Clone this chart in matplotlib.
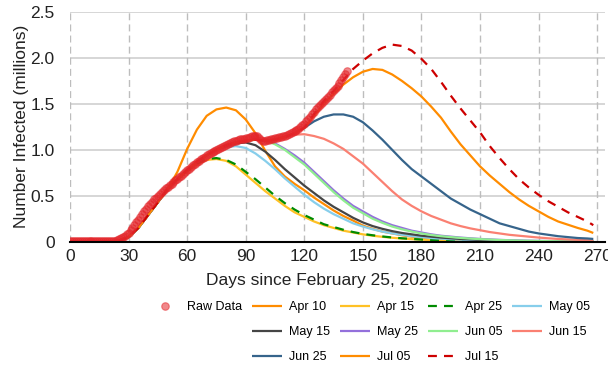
import numpy as np
import matplotlib
matplotlib.use("Agg")
import matplotlib.pyplot as plt
from matplotlib.lines import Line2D

plt.rcParams['font.family'] = ['Liberation Sans', 'DejaVu Sans']

# ---- observed data (millions infected), one value per day from Feb 25 ----
raw_days = list(range(0, 143))
raw_vals = [
    0.003, 0.003, 0.003, 0.003, 0.003, 0.003, 0.003, 0.003, 0.003, 0.003,
    0.003, 0.003, 0.003, 0.003, 0.003, 0.003, 0.004, 0.004, 0.004, 0.005,
    0.005, 0.007, 0.010, 0.013, 0.018, 0.025, 0.035, 0.048, 0.063, 0.080,
    0.100, 0.125, 0.150, 0.180, 0.210, 0.240, 0.270, 0.300, 0.330, 0.360,
    0.385, 0.410, 0.435, 0.460, 0.480, 0.500, 0.520, 0.540, 0.560, 0.580,
    0.600, 0.615, 0.630, 0.650, 0.670, 0.685, 0.700, 0.720, 0.740, 0.760,
    0.780, 0.790, 0.810, 0.830, 0.850, 0.865, 0.880, 0.895, 0.910, 0.925,
    0.940, 0.955, 0.965, 0.975, 0.990, 1.000, 1.010, 1.020, 1.035, 1.045,
    1.055, 1.065, 1.075, 1.085, 1.095, 1.100, 1.110, 1.115, 1.120, 1.120,
    1.125, 1.130, 1.140, 1.145, 1.150, 1.155, 1.150, 1.130, 1.110, 1.100,
    1.100, 1.105, 1.110, 1.115, 1.120, 1.125, 1.130, 1.135, 1.140, 1.145,
    1.150, 1.160, 1.170, 1.180, 1.190, 1.200, 1.215, 1.230, 1.245, 1.265,
    1.285, 1.310, 1.335, 1.360, 1.385, 1.410, 1.440, 1.470, 1.490, 1.510,
    1.535, 1.555, 1.575, 1.600, 1.625, 1.650, 1.675, 1.700, 1.730, 1.760,
    1.790, 1.820, 1.860,
]

# ---- model projections, sampled every 5 days ----
model_days = list(range(0, 266, 5)) + [268]

early = [0.0, 0.0, 0.0, 0.0, 0.002, 0.012, 0.05, 0.15, 0.29, 0.43]

apr10 = early + [0.57, 0.76, 1.01, 1.22, 1.37, 1.44, 1.46, 1.43, 1.33, 1.18,
                 0.99, 0.82, 0.71, 0.63, 0.56, 0.48, 0.41, 0.34, 0.28, 0.23,
                 0.175, 0.14, 0.11, 0.09, 0.07, 0.055, 0.045, 0.035, 0.03, 0.025,
                 0.02, 0.016, 0.012, 0.01, 0.008, 0.006, 0.005, 0.004, 0.003, 0.002,
                 0.002, 0.001, 0.001, 0.001, 0.001]
apr15 = early + [0.56, 0.67, 0.76, 0.84, 0.89, 0.90, 0.88, 0.82, 0.73, 0.64,
                 0.55, 0.47, 0.39, 0.32, 0.27, 0.22, 0.18, 0.15, 0.12, 0.10,
                 0.08, 0.065, 0.053, 0.043, 0.035, 0.028, 0.022, 0.018, 0.014, 0.011,
                 0.009, 0.007, 0.006, 0.005, 0.004, 0.003, 0.002, 0.002, 0.001, 0.001,
                 0.001, 0.001, 0.0, 0.0, 0.0]
apr25 = early + [0.57, 0.68, 0.77, 0.85, 0.90, 0.91, 0.89, 0.84, 0.76, 0.68,
                 0.59, 0.50, 0.42, 0.35, 0.29, 0.24, 0.19, 0.16, 0.13, 0.105,
                 0.085, 0.07, 0.057, 0.046, 0.037, 0.03, 0.024, 0.019, 0.015, 0.012,
                 0.01, 0.008, 0.006, 0.005, 0.004, 0.003, 0.003, 0.002, 0.002, 0.001,
                 0.001, 0.001, 0.001, 0.0, 0.0]
may05 = early + [0.57, 0.68, 0.78, 0.87, 0.94, 1.00, 1.03, 1.04, 1.02, 0.96,
                 0.88, 0.79, 0.69, 0.60, 0.51, 0.43, 0.36, 0.30, 0.25, 0.20,
                 0.165, 0.135, 0.11, 0.09, 0.075, 0.06, 0.05, 0.04, 0.033, 0.027,
                 0.022, 0.018, 0.015, 0.012, 0.01, 0.008, 0.006, 0.005, 0.004, 0.003,
                 0.002, 0.002, 0.001, 0.001, 0.001]
may15 = early + [0.57, 0.68, 0.78, 0.87, 0.94, 1.00, 1.04, 1.07, 1.08, 1.05,
                 0.98, 0.89, 0.79, 0.70, 0.61, 0.53, 0.45, 0.38, 0.32, 0.26,
                 0.21, 0.17, 0.14, 0.115, 0.095, 0.08, 0.065, 0.055, 0.045, 0.037,
                 0.03, 0.025, 0.02, 0.016, 0.013, 0.01, 0.008, 0.006, 0.005, 0.004,
                 0.003, 0.002, 0.002, 0.001, 0.001]
may25 = early + [0.58, 0.68, 0.78, 0.87, 0.94, 1.00, 1.05, 1.08, 1.10, 1.11,
                 1.10, 1.07, 1.01, 0.94, 0.86, 0.76, 0.66, 0.56, 0.47, 0.39,
                 0.33, 0.27, 0.22, 0.18, 0.15, 0.12, 0.10, 0.08, 0.065, 0.055,
                 0.045, 0.037, 0.03, 0.025, 0.02, 0.016, 0.013, 0.011, 0.009, 0.007,
                 0.006, 0.005, 0.004, 0.003, 0.003]
jun05 = early + [0.58, 0.68, 0.78, 0.87, 0.94, 1.00, 1.05, 1.08, 1.10, 1.11,
                 1.10, 1.06, 1.00, 0.92, 0.84, 0.74, 0.64, 0.54, 0.45, 0.37,
                 0.31, 0.25, 0.205, 0.165, 0.135, 0.11, 0.09, 0.073, 0.06, 0.05,
                 0.041, 0.034, 0.028, 0.023, 0.018, 0.015, 0.012, 0.01, 0.008, 0.006,
                 0.005, 0.004, 0.003, 0.003, 0.002]
jun15 = early + [0.58, 0.68, 0.78, 0.87, 0.94, 1.00, 1.05, 1.08, 1.10, 1.11,
                 1.10, 1.11, 1.14, 1.165, 1.17, 1.15, 1.12, 1.07, 1.01, 0.93,
                 0.85, 0.75, 0.65, 0.55, 0.46, 0.39, 0.33, 0.28, 0.24, 0.20,
                 0.17, 0.145, 0.125, 0.105, 0.09, 0.075, 0.065, 0.055, 0.045, 0.037,
                 0.03, 0.025, 0.02, 0.016, 0.013]
jun25 = early + [0.58, 0.68, 0.78, 0.87, 0.94, 1.00, 1.05, 1.08, 1.10, 1.11,
                 1.10, 1.11, 1.14, 1.18, 1.24, 1.31, 1.36, 1.385, 1.385, 1.36,
                 1.30, 1.21, 1.11, 1.00, 0.89, 0.79, 0.71, 0.63, 0.55, 0.47,
                 0.41, 0.35, 0.30, 0.25, 0.20, 0.17, 0.14, 0.11, 0.09, 0.075,
                 0.06, 0.05, 0.04, 0.035, 0.03]
jul05 = early + [0.58, 0.68, 0.78, 0.87, 0.94, 1.00, 1.05, 1.08, 1.10, 1.11,
                 1.10, 1.11, 1.14, 1.18, 1.24, 1.37, 1.50, 1.61, 1.71, 1.79,
                 1.85, 1.88, 1.87, 1.82, 1.75, 1.67, 1.58, 1.47, 1.35, 1.20,
                 1.06, 0.94, 0.82, 0.72, 0.63, 0.54, 0.46, 0.39, 0.33, 0.27,
                 0.22, 0.185, 0.15, 0.12, 0.095]
jul15 = early + [0.58, 0.68, 0.78, 0.87, 0.94, 1.00, 1.05, 1.08, 1.10, 1.11,
                 1.10, 1.11, 1.14, 1.18, 1.24, 1.39, 1.53, 1.64, 1.76, 1.88,
                 1.97, 2.05, 2.11, 2.145, 2.13, 2.08, 1.99, 1.88, 1.74, 1.59,
                 1.45, 1.32, 1.19, 1.04, 0.91, 0.79, 0.68, 0.59, 0.51, 0.44,
                 0.38, 0.32, 0.27, 0.22, 0.18]

series_labels = ["Apr 10", "Apr 15", "Apr 25", "May 05", "May 15", "May 25",
                 "Jun 05", "Jun 15", "Jun 25", "Jul 05", "Jul 15"]
series_values = [apr10, apr15, apr25, may05, may15, may25,
                 jun05, jun15, jun25, jul05, jul15]
series_colors = ["#FF8C00", "#FFC125", "#008B00", "#87CEEB", "#454545", "#9370DB",
                 "#90EE90", "#FA8072", "#36648B", "#FF8C00", "#CD0000"]
dashed = {"Apr 25", "Jul 15"}

x_ticks = [0, 30, 60, 90, 120, 150, 180, 210, 240, 270]
y_ticks = [0, 0.5, 1.0, 1.5, 2.0, 2.5]
y_tick_labels = ["0", "0.5", "1.0", "1.5", "2.0", "2.5"]

# ---- figure ----
W, H = 608, 368
fig = plt.figure(figsize=(W / 100, H / 100), dpi=100)
left, right, top, bottom = 70, 605, 12, 241.7
ax = fig.add_axes([left / W, 1 - bottom / H, (right - left) / W, (bottom - top) / H])

handles = {}
for lab, vals, col in zip(series_labels, series_values, series_colors):
    ls = (0, (4, 3.2)) if lab in dashed else "-"
    (ln,) = ax.plot(model_days, vals, color=col, lw=1.6, linestyle=ls, zorder=3,
                    solid_capstyle="butt", solid_joinstyle="round")
    handles[lab] = ln

(raw_ln,) = ax.plot(raw_days, raw_vals, "o", ms=5.4, color="#E4262B", alpha=0.55,
                    mec="#E4262B", mew=0.8, zorder=5)

ax.set_xlim(0, 274)
ax.set_ylim(0, 2.5)
ax.set_xticks(x_ticks)
ax.set_yticks(y_ticks)
ax.set_yticklabels(y_tick_labels)
ax.tick_params(axis="both", length=0, labelsize=12.5, colors="#222222")
ax.tick_params(axis="x", pad=5)
ax.tick_params(axis="y", pad=11)

for y in y_ticks:
    ax.axhline(y, color="#D0D0D0", lw=1.2, zorder=1)
for x in x_ticks:
    ax.axvline(x, color="#BDBDBD", lw=1.0, linestyle=(0, (5, 3)), zorder=1)

for s in ["top", "right", "left"]:
    ax.spines[s].set_visible(False)
ax.spines["bottom"].set_color("black")
ax.spines["bottom"].set_linewidth(1.5)
ax.spines["bottom"].set_zorder(6)

ax.set_xlabel("Days since February 25, 2020", fontsize=12.5, color="#222222")
ax.set_ylabel("Number Infected (millions)", fontsize=12.5, color="#222222")
ax.xaxis.set_label_coords((322 - left) / (right - left), (bottom - 273) / (bottom - top))
ax.yaxis.set_label_coords((29 - left) / (right - left), 0.5)

# legend laid out in five columns, three rows
blank = Line2D([], [], linestyle="none")
order = [raw_ln, blank, blank,
         handles["Apr 10"], handles["May 15"], handles["Jun 25"],
         handles["Apr 15"], handles["May 25"], handles["Jul 05"],
         handles["Apr 25"], handles["Jun 05"], handles["Jul 15"],
         handles["May 05"], handles["Jun 15"], blank]
names = ["Raw Data", "", "",
         "Apr 10", "May 15", "Jun 25",
         "Apr 15", "May 25", "Jul 05",
         "Apr 25", "Jun 05", "Jul 15",
         "May 05", "Jun 15", ""]
fig.legend(order, names, ncol=5, loc="upper center",
           bbox_to_anchor=(370 / W, 1 - 301 / H),
           frameon=False, fontsize=9, handlelength=2.4, handletextpad=0.55,
           columnspacing=0.8, labelspacing=1.05, borderpad=0, borderaxespad=0)

fig.savefig("out.png", dpi=100)
